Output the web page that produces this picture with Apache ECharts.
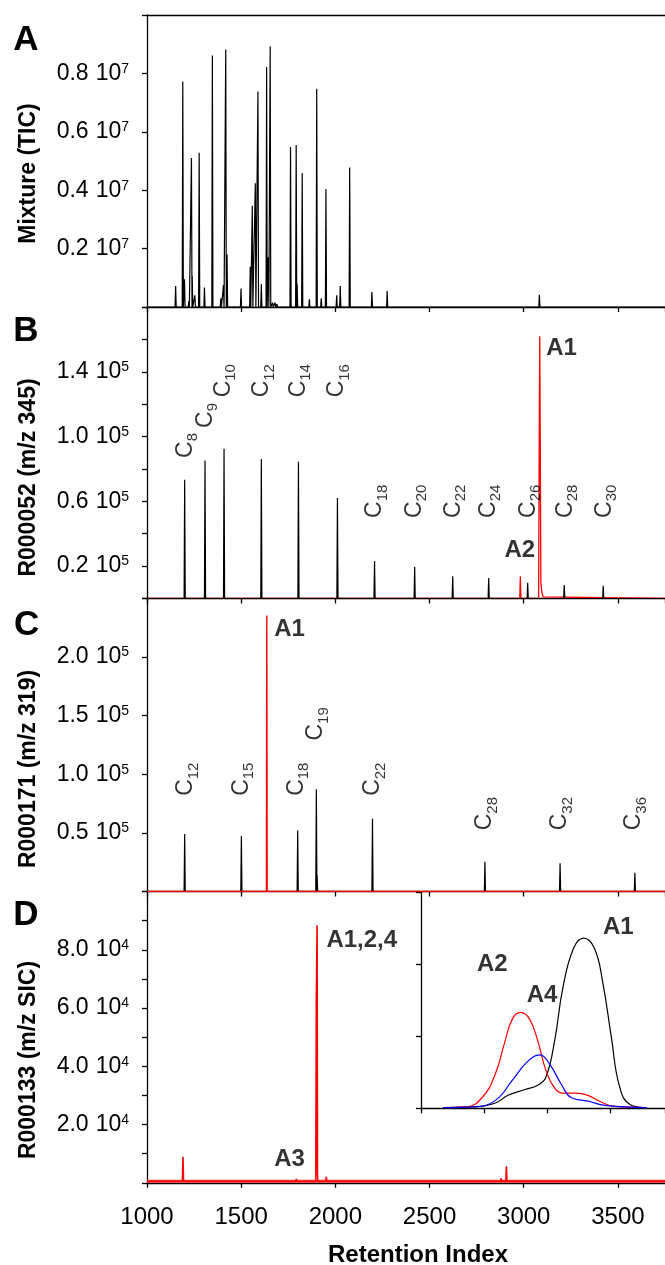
<!DOCTYPE html>
<html>
<head>
<meta charset="utf-8">
<script src="https://cdn.jsdelivr.net/npm/echarts@6/dist/echarts.min.js"></script>
<style>
html,body{margin:0;padding:0;background:#fff;}
#chart{width:665px;height:1265px;}
</style>
</head>
<body>
<div id="chart"></div>
<script>
// ---------------- DATA ----------------
const X_TICKS = [1000, 1500, 2000, 2500, 3000, 3500];

// Panel A: Mixture TIC peaks [retention index, intensity]
const peaksA = [
  [1152, 0.072e7], [1190, 0.772e7], [1199, 0.095e7], [1222, 0.02e7], [1236, 0.51e7], [1240, 0.106e7],
  [1254, 0.04e7], [1277, 0.528e7], [1305, 0.067e7], [1347, 0.861e7], [1392, 0.03e7], [1406, 0.075e7],
  [1418, 0.882e7], [1425, 0.18e7], [1499, 0.063e7], [1548, 0.138e7], [1559, 0.347e7], [1575, 0.424e7],
  [1589, 0.738e7], [1607, 0.079e7], [1635, 0.822e7], [1644, 0.17e7], [1654, 0.893e7], [1667, 0.015e7],
  [1680, 0.015e7], [1690, 0.01e7], [1762, 0.548e7], [1792, 0.555e7], [1797, 0.08e7], [1824, 0.459e7],
  [1862, 0.026e7], [1901, 0.747e7], [1925, 0.03e7], [1950, 0.404e7], [2007, 0.04e7], [2026, 0.072e7],
  [2076, 0.478e7], [2194, 0.051e7], [2275, 0.055e7], [3027, 0.005e7], [3083, 0.042e7], [3233, 0.003e7],
  [3270, 0.003e7]
];

// Panel B: R000052 (m/z 345)
const peaksB_black = [
  [1200, 0.733e5], [1308, 0.852e5], [1409, 0.924e5], [1607, 0.862e5], [1804, 0.844e5], [2011, 0.620e5],
  [2208, 0.231e5], [2421, 0.196e5], [2623, 0.138e5], [2814, 0.126e5], [3021, 0.097e5], [3215, 0.083e5],
  [3422, 0.079e5]
];
const peaksB_red = [[2982, 0.138e5]];
const profileB_A1 = [[3079, 0], [3082, 0.9e5], [3085, 1.62e5], [3088, 0.9e5], [3091, 0.1e5], [3096, 0.04e5], [3103, 0.01e5], [3110, 0]];
const labelsB_C = [
  [1204, 0.945e5, '8'], [1310, 1.13e5, '9'], [1405, 1.345e5, '10'], [1610, 1.345e5, '12'],
  [1804, 1.345e5, '14'], [2009, 1.345e5, '16'], [2211, 0.60e5, '18'], [2421, 0.60e5, '20'],
  [2626, 0.60e5, '22'], [2814, 0.60e5, '24'], [3025, 0.60e5, '26'], [3220, 0.60e5, '28'],
  [3429, 0.60e5, '30']
];
const labelsB_A = [[3201, 1.545e5, 'A1'], [2979, 0.298e5, 'A2']];

// Panel C: R000171 (m/z 319)
const peaksC_black = [
  [1200, 0.49e5], [1501, 0.474e5], [1800, 0.52e5], [1899, 0.872e5], [1903, 0.14e5], [2197, 0.62e5],
  [2794, 0.253e5], [3193, 0.242e5], [3590, 0.159e5]
];
const peaksC_red = [[1636, 2.355e5]];
const labelsC_C = [
  [1207, 0.958e5, '12'], [1503, 0.958e5, '15'], [1795, 0.958e5, '18'], [1897, 1.43e5, '19'],
  [2200, 0.958e5, '22'], [2795, 0.664e5, '28'], [3193, 0.664e5, '32'], [3586, 0.664e5, '36']
];
const labelsC_A = [[1757, 2.238e5, 'A1']];

// Panel D: R000133 (m/z SIC)
const baseD = 500;
const peaksD_red = [
  [1085, 900], [1100, 800], [1191, 8.9e3], [1793, 1.3e3], [1880, 900], [1952, 2.0e3], [2880, 1.5e3], [2908, 5.7e3], [3300, 700]
];
const profileD_main = [[1896, 500], [1899, 6.3e4], [1903, 8.84e4], [1905, 3.0e3], [1907, 500]];
const baselineD = [[1000, 500], [3750, 500]];
const labelsD_A = [[2140, 8.31e4, 'A1,2,4'], [1757, 0.82e4, 'A3']];

// Inset (arbitrary units)
const insetA1 = [[0.35,0.01],[0.98,0.03],[1.2,0.08],[1.38,0.18],[1.65,0.26],[1.85,0.32],[1.98,0.43],[2.12,0.94],[2.25,1.67],[2.42,2.22],[2.58,2.36],[2.75,2.22],[2.88,1.76],[3.02,0.98],[3.15,0.30],[3.32,0.05],[3.58,0.01]];
const insetA2 = [[0.35,0.01],[0.72,0.02],[0.98,0.16],[1.18,0.48],[1.32,0.89],[1.45,1.24],[1.58,1.33],[1.72,1.24],[1.85,0.94],[1.98,0.53],[2.12,0.28],[2.25,0.21],[2.45,0.21],[2.65,0.18],[2.85,0.09],[3.05,0.03],[3.58,0.01]];
const insetA4 = [[0.35,0.01],[0.85,0.02],[1.18,0.11],[1.45,0.39],[1.68,0.64],[1.88,0.74],[2.05,0.60],[2.22,0.34],[2.38,0.15],[2.65,0.10],[2.92,0.04],[3.58,0.01]];
const labelsInset = [[3.13, 2.51, 'A1'], [1.13, 1.99, 'A2'], [1.92, 1.56, 'A4']];

// Y tick labels
const yTicksA = [2e6, 4e6, 6e6, 8e6], yTextA = ['0.2', '0.4', '0.6', '0.8'], yExpA = '7';
const yTicksB = [2e4, 6e4, 1e5, 1.4e5], yTextB = ['0.2', '0.6', '1.0', '1.4'], yExpB = '5';
const yTicksC = [5e4, 1e5, 1.5e5, 2e5], yTextC = ['0.5', '1.0', '1.5', '2.0'], yExpC = '5';
const yTicksD = [2e4, 4e4, 6e4, 8e4], yTextD = ['2.0', '4.0', '6.0', '8.0'], yExpD = '4';

const yTitles = ['Mixture (TIC)', 'R000052 (m/z 345)', 'R000171 (m/z 319)', 'R000133 (m/z SIC)'];
const panelLetters = ['A', 'B', 'C', 'D'];
const xTitle = 'Retention Index';

// ---------------- BUILD ----------------
const FONT = "'Liberation Sans', Arial, Helvetica, sans-serif";
const XMIN = 1000, XMAX = 3750;

function spikes(peaks, base, hw) {
  const s = peaks.slice().sort((a, b) => a[0] - b[0]);
  const out = [[XMIN, base]];
  s.forEach(p => { out.push([p[0] - hw, base], [p[0], p[1]], [p[0] + hw, base]); });
  out.push([XMAX, base]);
  return out;
}
function withProfile(trace, profile) {
  const first = profile[0][0], last = profile[profile.length - 1][0];
  const before = trace.filter(p => p[0] < first);
  const after = trace.filter(p => p[0] > last);
  return before.concat(profile, after);
}

const grids = [
  {left: 147, top: 15, width: 520, height: 292},
  {left: 147, top: 307, width: 520, height: 291.5},
  {left: 147, top: 598.5, width: 520, height: 293},
  {left: 147, top: 891.5, width: 520, height: 291.3},
  {left: 421, top: 892, width: 246, height: 216.3}
];

const AX = {color: '#000', width: 1.3};
function mainX(gi, showLabel) {
  return {
    type: 'value', gridIndex: gi, min: XMIN, max: XMAX, interval: 500,
    axisLine: {show: true, onZero: false, lineStyle: AX},
    axisTick: {show: true, inside: false, length: 5, lineStyle: AX},
    axisLabel: {
      show: showLabel, margin: 23, fontFamily: FONT, fontSize: 24, color: '#000',
      showMaxLabel: false,
      formatter: v => (X_TICKS.indexOf(v) >= 0 ? String(v) : '')
    },
    splitLine: {show: false}
  };
}
function mainY(gi, max, interval, ticks, texts, exp) {
  return {
    type: 'value', gridIndex: gi, min: 0, max: max, interval: interval,
    axisLine: {show: true, onZero: false, lineStyle: AX},
    axisTick: {show: true, inside: false, length: 5, lineStyle: AX},
    axisLabel: {
      show: true, margin: 18, color: '#000',
      formatter: v => {
        const i = ticks.findIndex(t => Math.abs(t - v) < 1e-6 * t);
        if (i < 0) return '';
        return '{m|' + texts[i] + '}{e|10}{s|' + exp + '}';
      },
      rich: {
        m: {fontFamily: FONT, fontSize: 23, color: '#000'},
        e: {fontFamily: FONT, fontSize: 23, color: '#000', padding: [0, 0, 0, 7]},
        s: {fontFamily: FONT, fontSize: 14, color: '#000', verticalAlign: 'top', lineHeight: 14}
      }
    },
    splitLine: {show: false}
  };
}

const xAxes = [
  mainX(0, false),
  {type: 'value', gridIndex: 0, position: 'top', min: XMIN, max: XMAX,
   axisLine: {show: true, onZero: false, lineStyle: AX}, axisTick: {show: false}, axisLabel: {show: false}, splitLine: {show: false}},
  mainX(1, false),
  mainX(2, false),
  mainX(3, true),
  {type: 'value', gridIndex: 4, min: 0, max: 3.87, interval: 1,
   axisLine: {show: true, onZero: false, lineStyle: AX}, axisTick: {show: true, length: 5, lineStyle: AX},
   axisLabel: {show: false}, splitLine: {show: false}}
];
const yAxes = [
  mainY(0, 1e7, 2e6, yTicksA, yTextA, yExpA),
  mainY(1, 1.8e5, 2e4, yTicksB, yTextB, yExpB),
  mainY(2, 2.5e5, 5e4, yTicksC, yTextC, yExpC),
  mainY(3, 1e5, 1e4, yTicksD, yTextD, yExpD),
  {type: 'value', gridIndex: 4, min: 0, max: 3, interval: 1,
   axisLine: {show: true, onZero: false, lineStyle: AX}, axisTick: {show: true, length: 5, lineStyle: AX},
   axisLabel: {show: false}, splitLine: {show: false}}
];

function line(xi, yi, data, color, width, smooth) {
  return {type: 'line', xAxisIndex: xi, yAxisIndex: yi, data: data, symbol: 'none', smooth: smooth || false,
    lineStyle: {color: color, width: width || 1.1}, itemStyle: {color: color}, silent: true, z: 2};
}
function cLabels(xi, yi, data) {
  return {type: 'scatter', xAxisIndex: xi, yAxisIndex: yi, data: data, symbol: 'circle', symbolSize: 1,
    itemStyle: {color: 'rgba(0,0,0,0)'}, silent: true, z: 5,
    label: {show: true, position: 'inside', rotate: 90, align: 'center', verticalAlign: 'middle',
      formatter: p => '{c|C}{s|' + p.value[2] + '}',
      rich: {
        c: {fontFamily: FONT, fontSize: 23, lineHeight: 30, color: '#000'},
        s: {fontFamily: FONT, fontSize: 15, lineHeight: 8, verticalAlign: 'bottom', color: '#000'}
      }}};
}
function aLabels(xi, yi, data) {
  return {type: 'scatter', xAxisIndex: xi, yAxisIndex: yi, data: data, symbol: 'circle', symbolSize: 1,
    itemStyle: {color: 'rgba(0,0,0,0)'}, silent: true, z: 5,
    label: {show: true, position: 'inside', align: 'center', verticalAlign: 'middle',
      formatter: p => p.value[2], fontFamily: FONT, fontSize: 24, fontWeight: 'bold', color: '#000'}};
}

const HW = 3;
const series = [
  line(0, 0, spikes(peaksA, 0, HW), '#000', 1.2),
  // B
  line(2, 1, withProfile(spikes(peaksB_red, 0, HW), profileB_A1), '#ff0000', 1.3),
  line(2, 1, spikes(peaksB_black, 0, HW), '#000', 1.2),
  cLabels(2, 1, labelsB_C),
  aLabels(2, 1, labelsB_A),
  // C
  line(3, 2, spikes(peaksC_black, 0, HW), '#000', 1.2),
  line(3, 2, spikes(peaksC_red, 0, 2), '#ff0000', 1.4),
  cLabels(3, 2, labelsC_C),
  aLabels(3, 2, labelsC_A),
  // D
  line(4, 3, baselineD, '#ff5050', 3),
  line(4, 3, withProfile(spikes(peaksD_red, baseD, HW), profileD_main), '#ff0000', 1.6),
  aLabels(4, 3, labelsD_A),
  // inset
  line(5, 4, insetA1, '#000', 1.2, 0.45),
  line(5, 4, insetA2, '#ff0000', 1.2, 0.45),
  line(5, 4, insetA4, '#0000ff', 1.2, 0.45),
  aLabels(5, 4, labelsInset)
];

const titleCenters = [[28.7, 173.5], [28.5, 477.5], [28.5, 769], [28.5, 1060]];
const letterCenters = [[26, 40], [26, 331.7], [26.7, 625], [26, 915]];
const graphic = [];
yTitles.forEach((t, i) => {
  graphic.push({type: 'text', x: titleCenters[i][0], y: titleCenters[i][1], rotation: Math.PI / 2,
    style: {text: t, font: 'bold 23px ' + FONT, fill: '#000', align: 'center', verticalAlign: 'middle'}});
});
panelLetters.forEach((t, i) => {
  graphic.push({type: 'text', x: letterCenters[i][0], y: letterCenters[i][1],
    style: {text: t, font: 'bold 35px ' + FONT, fill: '#000', align: 'center', verticalAlign: 'middle'}});
});
graphic.push({type: 'text', x: 418, y: 1255,
  style: {text: xTitle, font: 'bold 24px ' + FONT, fill: '#000', align: 'center', verticalAlign: 'middle'}});

const chart = echarts.init(document.getElementById('chart'), null, {renderer: 'canvas'});
chart.setOption({
  animation: false,
  backgroundColor: '#fff',
  grid: grids,
  xAxis: xAxes,
  yAxis: yAxes,
  series: series,
  graphic: graphic
});
</script>
</body>
</html>
